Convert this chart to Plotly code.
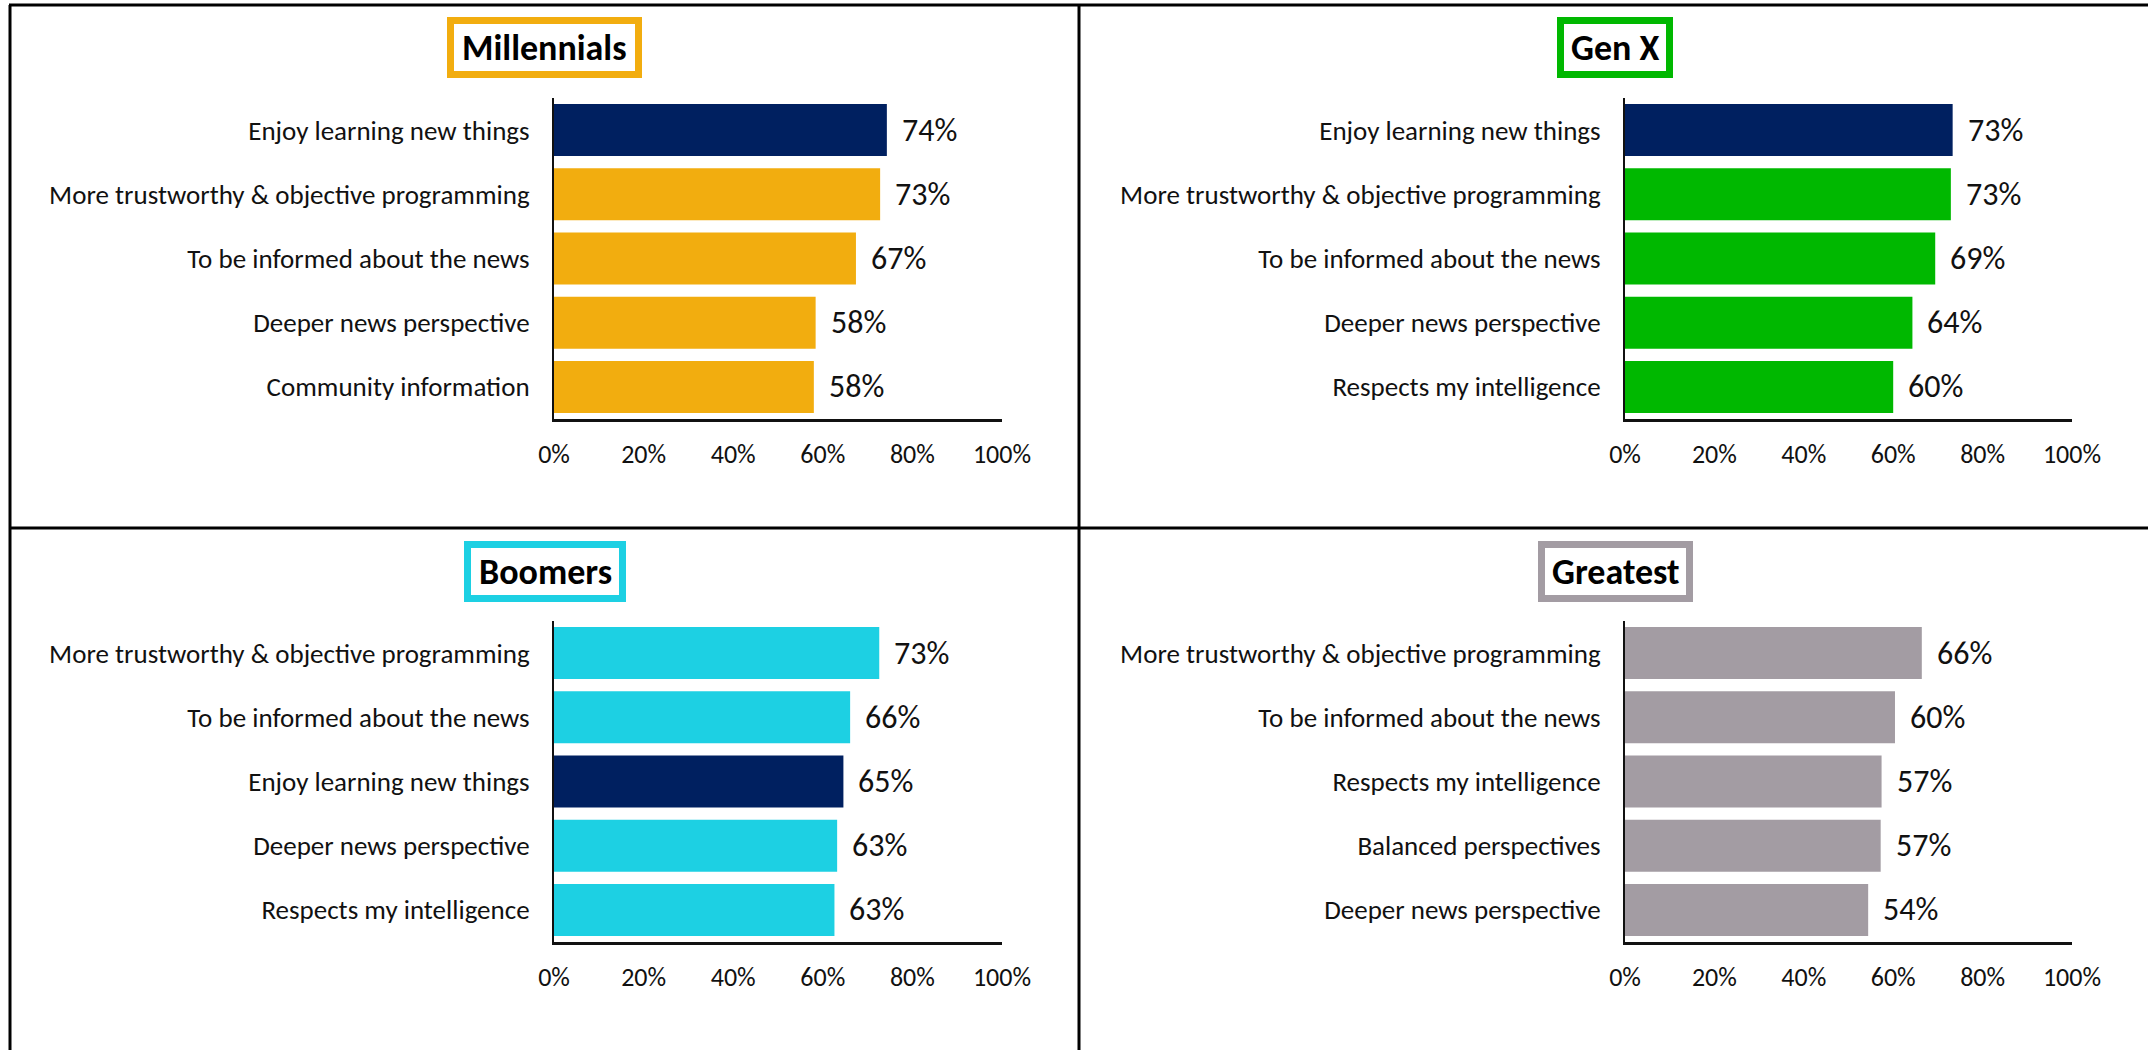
import plotly.graph_objects as go

# ---------------- data ----------------
panel_titles = ["Millennials", "Gen X", "Boomers", "Greatest"]

mill_cats = ["Enjoy learning new things", "More trustworthy & objective programming",
             "To be informed about the news", "Deeper news perspective", "Community information"]
mill_vals = [74.3, 72.8, 67.4, 58.4, 58.0]

genx_cats = ["Enjoy learning new things", "More trustworthy & objective programming",
             "To be informed about the news", "Deeper news perspective", "Respects my intelligence"]
genx_vals = [73.3, 72.9, 69.4, 64.3, 60.0]

boom_cats = ["More trustworthy & objective programming", "To be informed about the news",
             "Enjoy learning new things", "Deeper news perspective", "Respects my intelligence"]
boom_vals = [72.6, 66.1, 64.6, 63.2, 62.6]

great_cats = ["More trustworthy & objective programming", "To be informed about the news",
              "Respects my intelligence", "Balanced perspectives", "Deeper news perspective"]
great_vals = [66.4, 60.4, 57.4, 57.2, 54.4]

x_tickvals = [0, 20, 40, 60, 80, 100]
x_ticktext = ["0%", "20%", "40%", "60%", "80%", "100%"]

highlight_cat = "Enjoy learning new things"

# ---------------- style ----------------
W, H = 2148, 1050
FONT = "Carlito, Calibri, 'Liberation Sans Narrow', 'Open Sans', sans-serif"
NAVY = "#002060"
panel_colors = ["#F2AD0F", "#00B800", "#1DD0E3", "#A39CA3"]

panels = [
    (panel_titles[0], mill_cats, mill_vals, panel_colors[0]),
    (panel_titles[1], genx_cats, genx_vals, panel_colors[1]),
    (panel_titles[2], boom_cats, boom_vals, panel_colors[2]),
    (panel_titles[3], great_cats, great_vals, panel_colors[3]),
]

# pixel geometry (left, right, top, bottom) of each plot area
px_x = [(554, 1002), (1625, 2072), (554, 1002), (1625, 2072)]
px_y = [(98, 419), (98, 419), (621, 942), (621, 942)]
# title boxes (outer pixel edges: left, right, top, bottom)
title_box = [(447, 642, 17, 78), (1557, 1673, 17, 78), (464, 626, 541, 602), (1538, 1693, 541, 602)]
title_cx = [544, 1615, 545.5, 1616]
BW = 7

fig = go.Figure()

for i, (title, cats, vals, col) in enumerate(panels):
    ax = "" if i == 0 else str(i + 1)
    colors = [NAVY if c == highlight_cat else col for c in cats]
    fig.add_trace(go.Bar(
        x=vals, y=cats, orientation="h",
        marker=dict(color=colors, line=dict(width=0)),
        xaxis="x" + ax, yaxis="y" + ax,
        hoverinfo="x+y", showlegend=False,
    ))
    for c, v in zip(cats, vals):
        fig.add_annotation(
            x=v, y=c, xref="x" + ax, yref="y" + ax,
            text=f"{v:.0f}%", showarrow=False,
            xanchor="left", yanchor="middle", xshift=13,
            font=dict(family=FONT, size=32, color="#111111"),
        )
    x0, x1 = px_x[i]
    y0, y1 = px_y[i]
    fig.update_layout(**{
        "xaxis" + ax: dict(
            domain=[x0 / W, x1 / W], range=[0, 100], anchor="y" + ax,
            tickvals=x_tickvals, ticktext=x_ticktext,
            showgrid=False, zeroline=False, automargin=False,
            showline=True, linecolor="#111111", linewidth=3,
            ticks="", ticklabelstandoff=10,
            tickfont=dict(family=FONT, size=26, color="#111111"),
            fixedrange=True,
        ),
        "yaxis" + ax: dict(
            domain=[1 - y1 / H, 1 - y0 / H], anchor="x" + ax,
            categoryorder="array", categoryarray=cats[::-1],
            showgrid=False, zeroline=False, automargin=False,
            showline=True, linecolor="#111111", linewidth=2,
            ticks="", ticklabelstandoff=17,
            tickfont=dict(family=FONT, size=27, color="#111111"),
            fixedrange=True,
        ),
    })
    bl, br, bt, bb = title_box[i]
    fig.add_shape(
        type="rect", xref="paper", yref="paper",
        x0=(bl + BW / 2) / W, x1=(br - BW / 2) / W,
        y0=1 - (bb - BW / 2) / H, y1=1 - (bt + BW / 2) / H,
        line=dict(color=col, width=BW), fillcolor="#FFFFFF", layer="below",
    )
    fig.add_annotation(
        x=title_cx[i] / W, y=1 - ((bt + bb) / 2 + 0.5) / H, xref="paper", yref="paper",
        text=f"<b>{title}</b>", showarrow=False,
        xanchor="center", yanchor="middle",
        font=dict(family=FONT, size=36, color="#000000"),
    )

# panel frame lines
line = dict(color="#000000", width=3)
fig.add_shape(type="line", xref="paper", yref="paper", x0=9 / W, x1=1, y0=1 - 5 / H, y1=1 - 5 / H, line=line)
fig.add_shape(type="line", xref="paper", yref="paper", x0=10 / W, x1=10 / W, y0=0, y1=1 - 5 / H, line=line)
fig.add_shape(type="line", xref="paper", yref="paper", x0=1079 / W, x1=1079 / W, y0=0, y1=1 - 5 / H, line=line)
fig.add_shape(type="line", xref="paper", yref="paper", x0=10 / W, x1=1, y0=1 - 528 / H, y1=1 - 528 / H, line=line)

fig.update_layout(
    width=W, height=H,
    margin=dict(l=0, r=0, t=0, b=0, pad=0),
    paper_bgcolor="#FFFFFF", plot_bgcolor="#FFFFFF",
    bargap=0.19,
    font=dict(family=FONT),
)

fig.write_html("out.html", config={"displayModeBar": False},
               post_script="document.body.style.margin='0';document.body.style.overflow='hidden';")
